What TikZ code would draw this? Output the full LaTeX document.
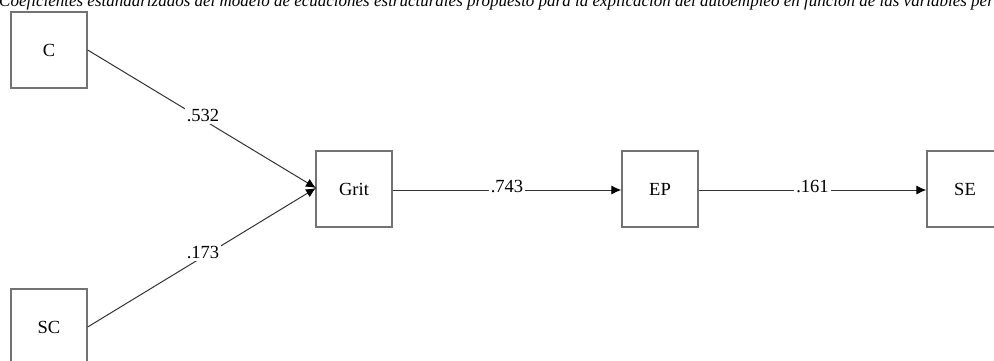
\documentclass[tikz,border=0pt]{standalone}
\usepackage{fontspec}
\setmainfont{Liberation Serif}
\usetikzlibrary{arrows.meta}
\begin{document}
\begin{tikzpicture}[x=1pt,y=-1pt,
  box/.style={draw=black!55,line width=1.3pt,fill=white,minimum width=76pt,minimum height=76pt,inner sep=0pt,font=\fontsize{18.5}{20}\selectfont},
  path/.style={draw=black!80,line width=1pt},
  coef/.style={fill=white,inner sep=2pt,font=\fontsize{18.5}{20}\selectfont},
  tip/.style={-{Latex[length=10pt,width=9pt,black]}}]
\useasboundingbox (0,0) rectangle (994,360);
\fill[white] (0,0) rectangle (994,360);
\node[anchor=base west,inner sep=0pt,font=\fontsize{17}{19}\selectfont\itshape] (title) at (-1,6.5) {Coeficientes estandarizados del modelo de ecuaciones estructurales propuesto para la explicación del autoempleo en función de las variables personales};
\node[box] (C) at (49,50) {C};
\node[box] (SC) at (49,327) {SC};
\node[box] (G) at (354,189) {Grit};
\node[box] (EP) at (660,189) {EP};
\node[box] (SE) at (965,189) {SE};
\coordinate (gin) at (316,188);
\draw[path,tip] (C.east) -- node[coef,pos=0.505,yshift=4pt]{.532} (gin);
\draw[path,tip] (SC.east) -- node[coef,pos=0.505,yshift=4pt]{.173} (gin);
\draw[path,tip] ([yshift=-1pt]G.east) -- node[coef,yshift=4pt]{.743} ([yshift=-1pt]EP.west);
\draw[path,tip] ([yshift=-1pt]EP.east) -- node[coef,yshift=4pt]{.161} ([yshift=-1pt]SE.west);
\end{tikzpicture}
\end{document}
